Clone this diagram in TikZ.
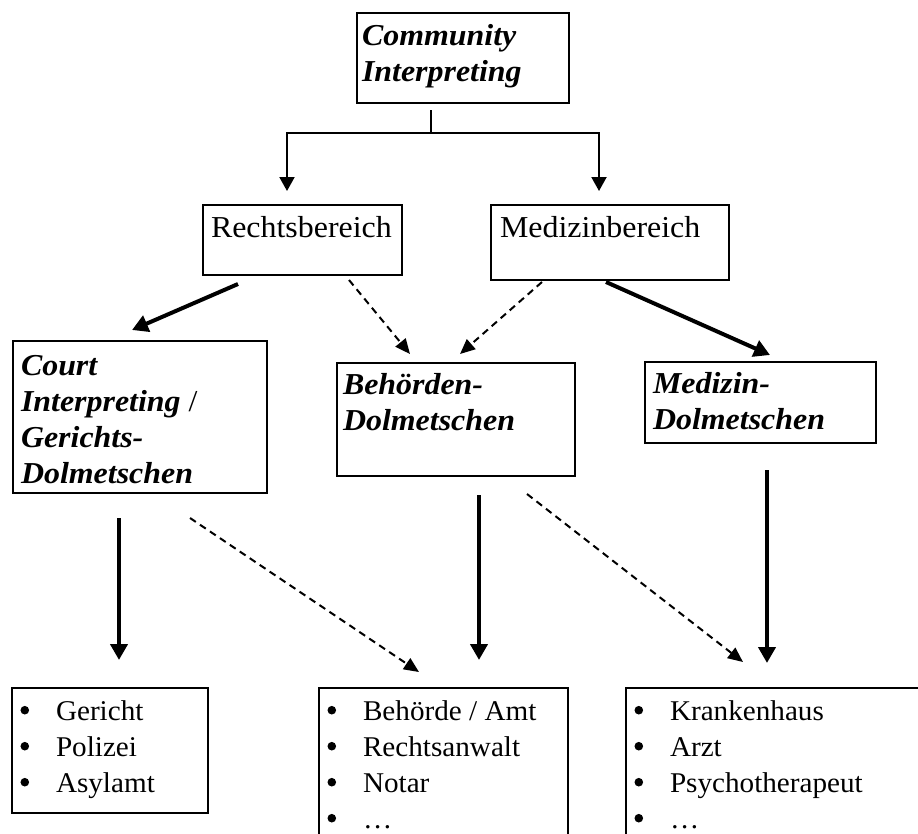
\documentclass[tikz,border=0pt]{standalone}
\usepackage{fontspec}
\setmainfont{Liberation Serif}
\newfontfamily\hdfont[FakeStretch=1.05]{Liberation Serif}
\newfontfamily\lsfont[FakeStretch=1.02]{Liberation Serif}
\usetikzlibrary{arrows.meta}
\newcommand\bxt[5]{\parbox[t][#2pt][t]{#1pt}{\raggedright\leftskip=#3pt\relax\rule{0pt}{#4pt}#5}}
\newcommand\bi[1]{\textbf{\textit{#1}}}
\newcommand\li[1]{\makebox[36pt][l]{\hspace*{0.5pt}\raisebox{5.5pt}{\tikz\fill (0,0) circle (4.3pt);}}#1}
\begin{document}
\begin{tikzpicture}[x=1pt,y=1pt,
  box/.style={draw, line width=2.5pt, inner sep=0pt, outer sep=0pt, anchor=north west},
  hd/.style={font=\hdfont\fontsize{30.4}{36}\selectfont},
  ls/.style={font=\lsfont\fontsize{28.6}{36}\selectfont},
  tline/.style={line width=2pt},
  tarrow/.style={line width=2pt, -{Triangle[length=14pt,width=15pt]}},
  barrow/.style={line width=4pt, -{Triangle[length=16pt,width=17pt]}},
  darrow/.style={line width=2pt, dash pattern=on 7pt off 5pt, -{Triangle[length=15pt,width=13pt]}}]
\useasboundingbox (0,0) rectangle (918,-833);
\clip (0,0) rectangle (918,-833);

% boxes
\node[box,hd] (ci) at (357,-13) {\bxt{212}{90}{5}{32.7}{\bi{Community}\\\bi{Interpreting}}};
\node[box,hd] (rb) at (203,-205) {\bxt{199}{70}{8}{32}{Rechtsbereich}};
\node[box,hd] (mb) at (491,-205) {\bxt{238}{75}{9}{32}{Medizinbereich}};
\node[box,hd] (court) at (13,-341) {\bxt{254}{152}{8}{34}{\bi{Court}\\\bi{Interpreting} /\\\bi{Gerichts-}\\\bi{Dolmetschen}}};
\node[box,hd] (bd) at (337,-363) {\bxt{238}{113}{6}{31}{\bi{Behörden-}\\\bi{Dolmetschen}}};
\node[box,hd] (md) at (645,-362) {\bxt{231}{81}{8}{31}{\bi{Medizin-}\\\bi{Dolmetschen}}};
\node[box,ls] (g1) at (12,-688) {\bxt{196}{125}{8}{32}{\li{Gericht}\\\li{Polizei}\\\li{Asylamt}}};
\node[box,ls] (g2) at (319,-688) {\bxt{249}{200}{8}{32}{\li{Behörde / Amt}\\\li{Rechtsanwalt}\\\li{Notar}\\\li{…}}};
\node[box,ls] (g3) at (626,-688) {\bxt{400}{200}{8}{32}{\li{Krankenhaus}\\\li{Arzt}\\\li{Psychotherapeut}\\\li{…}}};

% connector end points
\coordinate (ci-o) at (431,-110);
\coordinate (fork) at (431,-133);
\coordinate (rb-i) at (287,-191);
\coordinate (mb-i) at (599,-191);
\coordinate (rb-a) at (238,-284);
\coordinate (court-a) at (132,-330);
\coordinate (mb-a) at (606,-282);
\coordinate (md-a) at (770,-355);
\coordinate (court-b) at (119,-518);
\coordinate (g1-a) at (119,-660);
\coordinate (bd-b) at (479,-495);
\coordinate (g2-a) at (479,-660);
\coordinate (md-b) at (767,-470);
\coordinate (g3-a) at (767,-663);
\coordinate (rb-b) at (349,-280);
\coordinate (bd-a1) at (410,-354);
\coordinate (mb-b) at (542,-282);
\coordinate (bd-a2) at (460,-354);
\coordinate (court-c) at (190,-518);
\coordinate (g2-b) at (419,-672);
\coordinate (bd-c) at (527,-494);
\coordinate (g3-b) at (743,-662);

% connectors
\draw[tline] (ci-o) -- (fork);
\draw[tarrow] (fork) -| (rb-i);
\draw[tarrow] (fork) -| (mb-i);
\draw[barrow] (rb-a) -- (court-a);
\draw[barrow] (mb-a) -- (md-a);
\draw[barrow] (court-b) -- (g1-a);
\draw[barrow] (bd-b) -- (g2-a);
\draw[barrow] (md-b) -- (g3-a);
\draw[darrow] (rb-b) -- (bd-a1);
\draw[darrow] (mb-b) -- (bd-a2);
\draw[darrow] (court-c) -- (g2-b);
\draw[darrow] (bd-c) -- (g3-b);
\end{tikzpicture}
\end{document}
